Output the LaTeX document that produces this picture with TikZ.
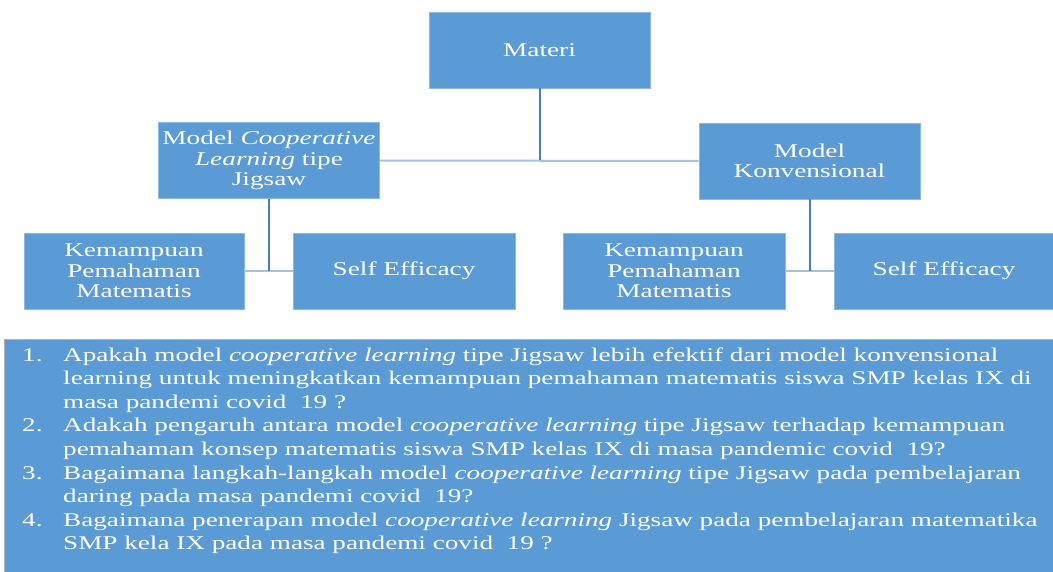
\documentclass[tikz,border=0pt]{standalone}
\usepackage{fontspec}
\setmainfont{Liberation Serif}[FakeStretch=1.4]
\definecolor{boxblue}{HTML}{5B9BD5}
\definecolor{boxedge}{HTML}{8DB8E2}
\definecolor{vline}{HTML}{4A7DB5}
\definecolor{hline}{HTML}{A3C1E0}
\definecolor{qedge}{HTML}{A8B4C2}
\tikzset{
  box/.style={fill=boxblue, draw=boxedge, line width=0.8pt, text=white,
    align=center, minimum width=221pt, minimum height=76pt, inner sep=2pt,
    font=\fontsize{19.5}{20.5}\selectfont},
  vlink/.style={draw=vline, line width=2pt},
  hlink/.style={draw=hline, line width=2pt},
  qtext/.style={text=white, align=left, inner sep=0pt,
    font=\fontsize{19.4}{23.6}\selectfont},
}
\begin{document}
\begin{tikzpicture}[x=1pt, y=-1pt]
\useasboundingbox (0,0) rectangle (1053,572);

% tree of boxes
\node[box] (materi) at (539.5,50) {Materi};
\node[box] (coop) at (269,160.5) {Model \textit{Cooperative}\\\textit{Learning} tipe\\Jigsaw};
\node[box] (konv) at (809.5,161) {Model\\Konvensional};
\node[box, minimum width=220pt] (kl) at (134,271) {Kemampuan\\Pemahaman\\Matematis};
\node[box, minimum width=222pt] (sl) at (404,271) {\raisebox{-2pt}{Self Efficacy}};
\node[box, minimum width=222pt] (kr) at (674,271) {Kemampuan\\Pemahaman\\Matematis};
\node[box, minimum width=220pt] (sr) at (944,271) {\raisebox{-2pt}{Self Efficacy}};

% connectors
\coordinate (j1) at (materi.south |- coop.east);
\coordinate (j2) at (coop.south |- kl.east);
\coordinate (j3) at (konv.south |- kr.east);
\path[hlink] (coop.east) -- (konv.west);
\path[vlink] (materi.south) -- (j1);
\path[hlink] (kl.east) -- (sl.west);
\path[vlink] (coop.south) -- (j2);
\path[hlink] (kr.east) -- (sr.west);
\path[vlink] (konv.south) -- (j3);

% research questions (each node is anchored at the baseline of its last line)
\node[fill=boxblue, draw=qedge, line width=0.8pt, minimum width=1050pt,
  minimum height=234pt, anchor=north west, inner sep=0pt] (qbox) at (4,339) {};
\node[qtext, anchor=base west] (n1) at (22,361) {1.};
\node[qtext, anchor=base west] (q1) at (63,408.2) {Apakah model \textit{cooperative learning} tipe Jigsaw lebih efektif dari model konvensional\\learning untuk meningkatkan kemampuan pemahaman matematis siswa SMP kelas IX di\\masa pandemi covid\ \ 19 ?};
\node[qtext, anchor=base west] (n2) at (22,431.8) {2.};
\node[qtext, anchor=base west] (q2) at (63,455.4) {Adakah pengaruh antara model \textit{cooperative learning} tipe Jigsaw terhadap kemampuan\\pemahaman konsep matematis siswa SMP kelas IX di masa pandemic covid\ \ 19?};
\node[qtext, anchor=base west] (n3) at (22,479) {3.};
\node[qtext, anchor=base west] (q3) at (63,502.6) {Bagaimana langkah-langkah model \textit{cooperative learning} tipe Jigsaw pada pembelajaran\\daring pada masa pandemi covid\ \ 19?};
\node[qtext, anchor=base west] (n4) at (22,526.2) {4.};
\node[qtext, anchor=base west] (q4) at (63,549.8) {Bagaimana penerapan model \textit{cooperative learning} Jigsaw pada pembelajaran matematika\\SMP kela IX pada masa pandemi covid\ \ 19 ?};
\end{tikzpicture}
\end{document}
